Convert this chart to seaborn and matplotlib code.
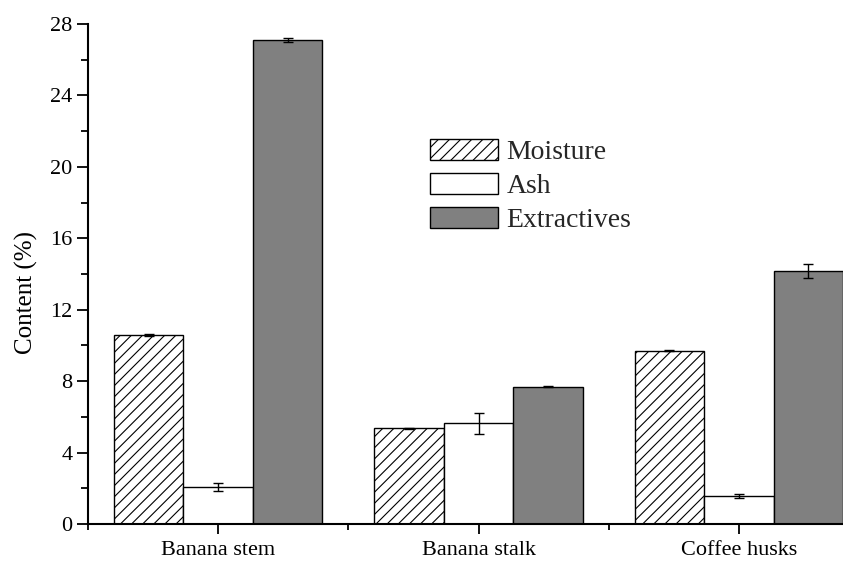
import matplotlib
matplotlib.use("Agg")
import matplotlib.pyplot as plt
from matplotlib.patches import Patch
from matplotlib.ticker import MultipleLocator
import seaborn as sns
import pandas as pd

# Composition of the three biomass residues (mean ± SD, %)
categories = ["Banana stem", "Banana stalk", "Coffee husks"]
components = ["Moisture", "Ash", "Extractives"]
moisture = [10.6, 5.35, 9.7]
moisture_err = [0.05, 0.04, 0.03]
ash = [2.07, 5.63, 1.55]
ash_err = [0.22, 0.59, 0.12]
extractives = [27.1, 7.7, 14.17]
extractives_err = [0.1, 0.05, 0.39]

values = {"Moisture": moisture, "Ash": ash, "Extractives": extractives}
errors = {"Moisture": moisture_err, "Ash": ash_err, "Extractives": extractives_err}

rows = []
for comp in components:
    for cat, v, e in zip(categories, values[comp], errors[comp]):
        rows.append({"Sample": cat, "Component": comp, "Content": v, "Err": e})
df = pd.DataFrame(rows)

sns.set_theme(style="ticks")
plt.rcParams["font.family"] = ["Liberation Serif", "DejaVu Serif"]
plt.rcParams["hatch.linewidth"] = 0.8

styles = {
    "Moisture": dict(facecolor="white", hatch="///"),
    "Ash": dict(facecolor="white", hatch=""),
    "Extractives": dict(facecolor="#808080", hatch=""),
}

fig = plt.figure(figsize=(8.43, 5.63), dpi=100)
ax = fig.add_axes([88 / 843, 1 - 524 / 563, 1 - 88 / 843, 500 / 563])

sns.barplot(data=df, x="Sample", y="Content", hue="Component",
            order=categories, hue_order=components, errorbar=None,
            width=0.8, legend=False, ax=ax)

# style bars and attach error bars at each bar's centre
bars = [p for p in ax.patches if p.get_height() > 0]
for i, comp in enumerate(components):
    for j, cat in enumerate(categories):
        p = bars[i * len(categories) + j]
        st = styles[comp]
        p.set_facecolor(st["facecolor"])
        p.set_hatch(st["hatch"])
        p.set_edgecolor("black")
        p.set_linewidth(1.0)
        cx = p.get_x() + p.get_width() / 2
        ax.errorbar(cx, p.get_height(), yerr=errors[comp][j], fmt="none",
                    ecolor="black", elinewidth=1.0, capsize=3.5, capthick=1.0)

ax.set_xlim(-0.5, 2.40)
ax.set_ylim(0, 28)
ax.yaxis.set_major_locator(MultipleLocator(4))
ax.yaxis.set_minor_locator(MultipleLocator(2))
ax.set_xticks(range(len(categories)))
ax.set_xticks([-0.5, 0.5, 1.5], minor=True)
ax.set_xticklabels(categories)

for side in ["top", "right"]:
    ax.spines[side].set_visible(False)
for side in ["left", "bottom"]:
    ax.spines[side].set_linewidth(1.5)
    ax.spines[side].set_color("black")

ax.tick_params(axis="both", which="both", direction="out", color="black",
               width=1.3, labelsize=16, labelcolor="black")
ax.tick_params(axis="y", which="major", length=8, pad=3)
ax.tick_params(axis="y", which="minor", length=5)
ax.tick_params(axis="x", which="major", length=7, pad=5)
ax.tick_params(axis="x", which="minor", length=4)

ax.set_xlabel("")
ax.set_ylabel("Content (%)", fontsize=18, color="black")
ax.yaxis.set_label_coords(-0.066, 0.464)

handles = [Patch(facecolor=styles[c]["facecolor"], hatch=styles[c]["hatch"],
                 edgecolor="black", linewidth=1.0, label=c) for c in components]
fig.legend(handles=handles, loc="upper left", bbox_to_anchor=(430 / 843, 1 - 139 / 563),
           frameon=False, fontsize=20, handlelength=2.45, handleheight=0.8,
           handletextpad=0.3, labelspacing=0.28, borderpad=0, borderaxespad=0)

fig.savefig("out.png", dpi=100)
